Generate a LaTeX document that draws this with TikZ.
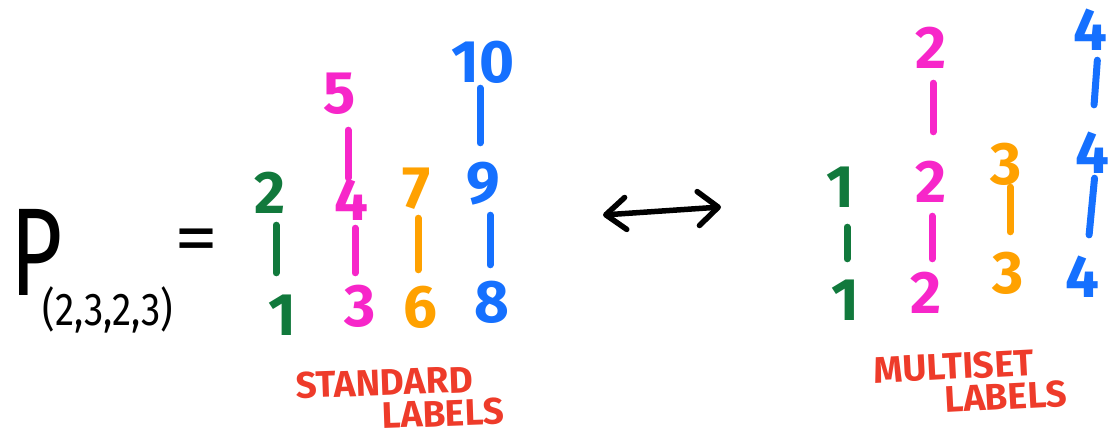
\documentclass[tikz,border=0pt]{standalone}
\usepackage{fontspec}
\setmainfont{Fira Sans}
\usetikzlibrary{arrows.meta}
\definecolor{pgreen}{HTML}{11793C}
\definecolor{pmag}{HTML}{F726C9}
\definecolor{porange}{HTML}{FFA100}
\definecolor{pblue}{HTML}{1570FF}
\definecolor{pred}{HTML}{EE3B2A}
\begin{document}
\begin{tikzpicture}[x=1pt,y=-1pt,
  num/.style={inner sep=0pt, text height=40pt, text depth=0pt, font=\bfseries\fontsize{60}{60}\selectfont},
  link/.style={line width=7pt, line cap=round},
  lab/.style={text=pred, inner sep=0pt, align=left, anchor=north west, font=\bfseries\fontsize{37}{33}\selectfont}]
\useasboundingbox (0,0) rectangle (1111,436);
% left side: P =
\node[inner sep=0pt, text height=86pt, text depth=0pt, font=\fontsize{125}{125}\selectfont] (P) at (37,252) {\scalebox{0.72}[1]{P}};
\node[inner sep=0pt, text height=30pt, text depth=0pt, font=\fontsize{46}{46}\selectfont] (sub) at (108,310) {\scalebox{0.84}[1]{(2,3,2,3)}};
\node[inner sep=0pt, font=\fontsize{80}{80}\selectfont] (eq) at (196,246) {\scalebox{1.1}[0.9]{=}};
% standard labels poset
\node[num, text=pgreen] (a2) at (270,193) {2};
\node[num, text=pgreen] (a1) at (282,315) {1};
\node[num, text=pmag] (a5) at (340,93) {5};
\node[num, text=pmag] (a4) at (351,200) {4};
\node[num, text=pmag] (a3) at (360,306) {3};
\node[num, text=porange] (a7) at (417,188) {7};
\node[num, text=porange] (a6) at (420,307) {6};
\node[num, text=pblue] (a10) at (483,62) {10};
\node[num, text=pblue] (a9) at (483,183) {9};
\node[num, text=pblue] (a8) at (492,302) {8};
\draw[link, pgreen, shorten <=12pt, shorten >=22pt] ([xshift=6pt]a2.south) -- ([xshift=-6pt]a1.north);
\draw[link, pmag, shorten <=17pt, shorten >=2pt] ([xshift=8pt]a5.south) -- ([xshift=-3pt]a4.north);
\draw[link, pmag, shorten <=8pt, shorten >=13pt] ([xshift=4pt]a4.south) -- ([xshift=-5pt]a3.north);
\draw[link, porange, shorten <=10pt, shorten >=17pt] ([xshift=1pt]a7.south) -- ([xshift=-2pt]a6.north);
\draw[link, pblue, shorten <=6pt, shorten >=20pt] ([xshift=-3pt]a10.south) -- ([xshift=-3pt]a9.north);
\draw[link, pblue, shorten <=12pt, shorten >=17pt] ([xshift=7pt]a9.south) -- ([xshift=-2pt]a8.north);
% arrow
\coordinate (al) at (603,215);
\coordinate (ar) at (721,207);
\draw[line width=5.5pt, {Straight Barb[round,length=20pt,width=32pt]}-{Straight Barb[round,length=20pt,width=34pt]}] (al) -- (ar);
% multiset labels poset
\node[num, text=pgreen] (b1t) at (840,187) {1};
\node[num, text=pgreen] (b1b) at (845,300) {1};
\node[num, text=pmag] (b2t) at (931,48) {2};
\node[num, text=pmag] (b2m) at (931,182) {2};
\node[num, text=pmag] (b2b) at (926,293) {2};
\node[num, text=porange] (b3t) at (1006,164) {3};
\node[num, text=porange] (b3b) at (1008,273) {3};
\node[num, text=pblue] (b4t) at (1090,31) {4};
\node[num, text=pblue] (b4m) at (1092,153) {4};
\node[num, text=pblue] (b4b) at (1082,277) {4};
\draw[link, pgreen, shorten <=20pt, shorten >=21pt] ([xshift=7pt]b1t.south) -- ([xshift=2pt]b1b.north);
\draw[link, pmag, shorten <=15pt, shorten >=30pt] ([xshift=2pt]b2t.south) -- ([xshift=2pt]b2m.north);
\draw[link, pmag, shorten <=14pt, shorten >=14pt] ([xshift=1pt]b2m.south) -- ([xshift=6pt]b2b.north);
\draw[link, porange, shorten <=3pt, shorten >=21pt] ([xshift=4pt]b3t.south) -- ([xshift=2pt]b3b.north);
\draw[link, pblue, shorten <=9pt, shorten >=28pt] ([xshift=8pt]b4t.south) -- (b4m.north);
\draw[link, pblue, shorten <=5pt, shorten >=22pt] ([xshift=3pt]b4m.south) -- ([xshift=5pt]b4b.north);
% labels
\node[lab, rotate=2] (sl) at (295,372) {STANDARD\\\hspace*{85pt}LABELS};
\node[lab, rotate=3] (ml) at (873,357) {MULTISET\\\hspace*{69pt}LABELS};
\end{tikzpicture}
\end{document}
